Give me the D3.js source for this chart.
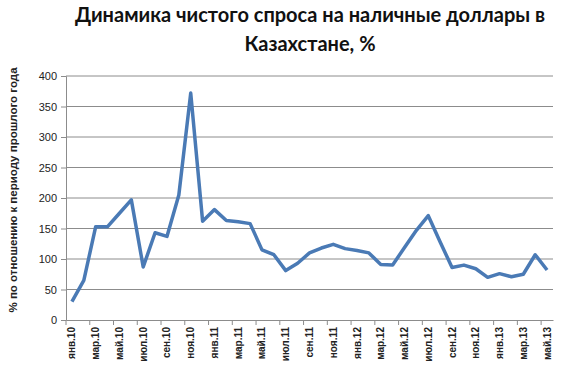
<!DOCTYPE html>
<html>
<head>
<meta charset="utf-8">
<script src="https://cdn.jsdelivr.net/npm/d3@7"></script>
<style>
body { margin: 0; background: #fff; }
svg text { font-family: "Open Sans", "Noto Sans", sans-serif; }
</style>
</head>
<body>
<div id="main_div"></div>
<script>
var months = ["янв", "фев", "мар", "апр", "май", "июн", "июл", "авг", "сен", "окт", "ноя", "дек"];
var years = ["10", "11", "12", "13"];
var categories = [];
years.forEach(function(y) {
    months.forEach(function(m) {
        categories.push(m + "." + y);
    });
});
categories = categories.slice(0, 41);

var values = [30, 65, 153, 153, 175, 197, 87, 143, 137, 205, 372, 162,
    181, 163, 161, 158, 115, 107, 81, 93, 110, 118, 124, 117,
    114, 110, 91, 90, 119, 147, 171, 128, 86, 90, 84, 70,
    76, 71, 75, 107, 82];
var y_ticks = [0, 50, 100, 150, 200, 250, 300, 350, 400];

var data = categories.map(function(c, i) { return {cat: c, v: values[i]}; });

var W = 570, H = 374;
var x0 = 66, x1 = 553, yTop = 76, yBot = 320;

var x_scale = d3.scaleBand().domain(categories).range([x0, x1]);
var y_scale = d3.scaleLinear().domain([0, 400]).range([yBot, yTop]);

var svg = d3.select("#main_div").append("svg").attr("width", W).attr("height", H);

// title
var title = svg.append("text").attr("text-anchor", "middle").attr("font-weight", "bold")
    .attr("font-size", 20).attr("fill", "#111").style("font-family", "Lato, 'Open Sans', sans-serif");
title.append("tspan").attr("x", 310).attr("y", 22).text("Динамика чистого спроса на наличные доллары в");
title.append("tspan").attr("x", 310).attr("y", 51).text("Казахстане, %");

// gridlines
svg.append("g").selectAll("line").data(y_ticks.slice(1)).enter().append("line")
    .attr("x1", x0).attr("x2", x1)
    .attr("y1", function(d) { return y_scale(d); })
    .attr("y2", function(d) { return y_scale(d); })
    .attr("stroke", "#8c8c8c").attr("stroke-width", 1);

// y axis
var g_y = svg.append("g").attr("transform", "translate(" + x0 + ",0)")
    .call(d3.axisLeft(y_scale).tickValues(y_ticks).tickSize(5).tickPadding(4));
g_y.select(".domain").attr("stroke", "#8c8c8c");
g_y.selectAll(".tick line").attr("stroke", "#8c8c8c");
g_y.selectAll("text").attr("font-size", 11).attr("fill", "#222")
    .style("font-family", "'Liberation Sans', Arial, sans-serif");

// x axis
var g_x = svg.append("g").attr("transform", "translate(0," + yBot + ")")
    .call(d3.axisBottom(x_scale).tickValues(categories.filter(function(d, i) { return i % 2 == 0; })).tickSize(0));
g_x.select(".domain").attr("stroke", "#8c8c8c");
g_x.selectAll("text")
    .attr("transform", "rotate(-90)")
    .attr("x", -7).attr("y", 0).attr("dy", "0.35em")
    .attr("text-anchor", "end")
    .attr("font-size", 10).attr("font-weight", "bold").attr("fill", "#222")
    .style("font-family", "'Liberation Sans', Arial, sans-serif");

// tick marks between every 2 categories
var tick_pos = [];
for (var i = 0; i <= categories.length; i += 2) tick_pos.push(i);
svg.append("g").selectAll("line").data(tick_pos).enter().append("line")
    .attr("x1", function(d) { return x0 + d * x_scale.step(); })
    .attr("x2", function(d) { return x0 + d * x_scale.step(); })
    .attr("y1", yBot).attr("y2", yBot + 5)
    .attr("stroke", "#8c8c8c");

// y title
svg.append("text")
    .attr("transform", "translate(17,190) rotate(-90)")
    .attr("text-anchor", "middle").attr("font-size", 11.5).attr("font-weight", "bold").attr("fill", "#222")
    .style("font-family", "'Liberation Sans', Arial, sans-serif")
    .text("% по отношению к периоду прошлого года");

// line
var line = d3.line()
    .x(function(d) { return x_scale(d.cat) + x_scale.bandwidth() / 2; })
    .y(function(d) { return y_scale(d.v); });
svg.append("path").datum(data).attr("d", line)
    .attr("fill", "none").attr("stroke", "#4a7ab5").attr("stroke-width", 3.5)
    .attr("stroke-linejoin", "round");
</script>
</body>
</html>
